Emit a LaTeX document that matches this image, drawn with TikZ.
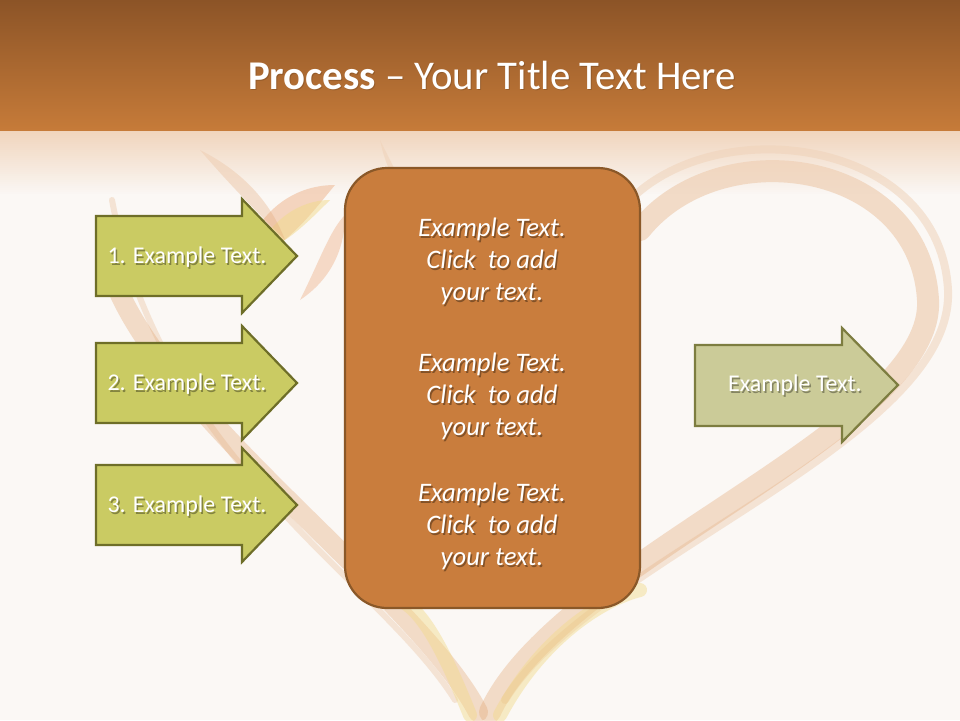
\documentclass[tikz,border=0pt]{standalone}
\usepackage{fontspec}
\setmainfont{Carlito}
\begin{document}
\begin{tikzpicture}[x=1pt,y=-1pt]
\definecolor{bg}{HTML}{FBF8F5}
\definecolor{tTop}{HTML}{8C5427}
\definecolor{tBot}{HTML}{C67B39}
\definecolor{fadeTop}{HTML}{F0D2B8}
\definecolor{arrFill}{HTML}{CACB63}
\definecolor{arrLine}{HTML}{6E6E28}
\definecolor{arrFillB}{HTML}{CBCB98}
\definecolor{arrLineB}{HTML}{7D7D40}
\definecolor{boxFill}{HTML}{C97D3D}
\definecolor{boxLine}{HTML}{8A5828}
\definecolor{swirl}{HTML}{E2A572}
\definecolor{swirlY}{HTML}{F2DA8A}
\definecolor{petal}{HTML}{E8925A}
\tikzset{
  arrowshape/.style={fill=arrFill,draw=arrLine,line width=2.2pt,line join=miter},
  arrowshapeB/.style={fill=arrFillB,draw=arrLineB,line width=2.2pt,line join=miter},
  boxshape/.style={fill=boxFill,draw=boxLine,line width=2.2pt,rounded corners=42pt},
  lbl/.style={text=white,font=\fontsize{24}{28}\selectfont,inner sep=0pt},
  lblsh/.style={text=black,opacity=0.35,font=\fontsize{24}{28}\selectfont,inner sep=0pt},
  mid/.style={text=white,align=center,font=\fontsize{26.7}{32}\selectfont\itshape,inner sep=0pt},
  midsh/.style={text=black,opacity=0.35,align=center,font=\fontsize{26.7}{32}\selectfont\itshape,inner sep=0pt},
  swirlline/.style={draw=swirl,line cap=round,opacity=0.35},
}
\useasboundingbox (0,0) rectangle (960,720);
\fill[bg] (0,0) rectangle (960,720);
% background heart decoration
\draw[swirlline,line width=22pt] (490,712) .. controls (560,560) and (935,430) .. (928,300) .. controls (920,160) and (720,130) .. (640,230);
\draw[swirlline,line width=8pt,opacity=0.25] (505,700) .. controls (590,560) and (955,440) .. (948,290) .. controls (940,140) and (720,110) .. (630,200);
\draw[swirlline,line width=20pt] (478,712) .. controls (420,600) and (180,430) .. (118,290);
\draw[swirlline,line width=6pt,opacity=0.25] (455,700) .. controls (380,580) and (160,460) .. (112,200);
\draw[draw=swirlY,line width=14pt,opacity=0.45,line cap=round] (470,715) .. controls (440,640) and (420,610) .. (400,600);
\draw[draw=swirlY,line width=14pt,opacity=0.45,line cap=round] (500,715) .. controls (540,640) and (600,600) .. (640,590);
% flower petals
\fill[petal,opacity=0.35] (240,265) .. controls (255,215) and (290,185) .. (335,185) .. controls (310,215) and (285,250) .. (240,265) -- cycle;
\fill[swirlY,opacity=0.5] (255,255) .. controls (270,220) and (300,200) .. (330,200) .. controls (305,225) and (285,245) .. (255,255) -- cycle;
\fill[petal,opacity=0.3] (300,300) .. controls (320,260) and (330,230) .. (345,215) .. controls (345,250) and (330,280) .. (300,300) -- cycle;
\fill[swirl,opacity=0.3] (200,150) .. controls (240,170) and (270,200) .. (285,240) .. controls (255,210) and (230,185) .. (200,150) -- cycle;
\fill[swirl,opacity=0.25] (380,140) .. controls (390,160) and (400,180) .. (410,200) .. controls (395,185) and (385,165) .. (380,140) -- cycle;
% title band with fade
\foreach \i in {0,...,31} {
  \fill[fadeTop,opacity={0.92*(1-\i/32)}] (0,{130+2*\i}) rectangle (960,{132+2*\i});
}
\shade[top color=tTop,bottom color=tBot] (0,0) rectangle (960,130);
\node[text=black,opacity=0.15,font=\fontsize{40.8}{48}\selectfont,inner sep=0pt] at (493,76) {\textbf{Process} – Your Title Text Here};
\node[text=white,font=\fontsize{40.8}{48}\selectfont,inner sep=0pt] (title) at (492,75) {\textbf{Process} – Your Title Text Here};
% input arrows
\draw[arrowshape] (96,216) -- (242,216) -- (242,199) -- (297,256) -- (242,313) -- (242,296) -- (96,296) -- cycle;
\draw[arrowshape] (96,343) -- (242,343) -- (242,326) -- (297,383) -- (242,440) -- (242,423) -- (96,423) -- cycle;
\draw[arrowshape] (96,465) -- (242,465) -- (242,448) -- (297,505) -- (242,562) -- (242,545) -- (96,545) -- cycle;
\node[lblsh] at (188.5,259) {1. Example Text.};
\node[lbl] (a1) at (187,257.5) {1. Example Text.};
\node[lblsh] at (188.5,386) {2. Example Text.};
\node[lbl] (a2) at (187,384.5) {2. Example Text.};
\node[lblsh] at (188.5,508) {3. Example Text.};
\node[lbl] (a3) at (187,506.5) {3. Example Text.};
% central box
\draw[boxshape] (345,168) rectangle (640,608);
\node[midsh] at (493.5,263) {Example Text.\\Click\ \ to add\\your text.};
\node[mid] (m1) at (492,261.5) {Example Text.\\Click\ \ to add\\your text.};
\node[midsh] at (493.5,398) {Example Text.\\Click\ \ to add\\your text.};
\node[mid] (m2) at (492,396.5) {Example Text.\\Click\ \ to add\\your text.};
\node[midsh] at (493.5,528) {Example Text.\\Click\ \ to add\\your text.};
\node[mid] (m3) at (492,526.5) {Example Text.\\Click\ \ to add\\your text.};
% output arrow
\draw[arrowshapeB] (695,345) -- (842,345) -- (842,328) -- (898,385) -- (842,442) -- (842,426) -- (695,426) -- cycle;
\node[lblsh] at (796.5,387) {Example Text.};
\node[lbl] (out) at (795,385.5) {Example Text.};
\end{tikzpicture}
\end{document}
